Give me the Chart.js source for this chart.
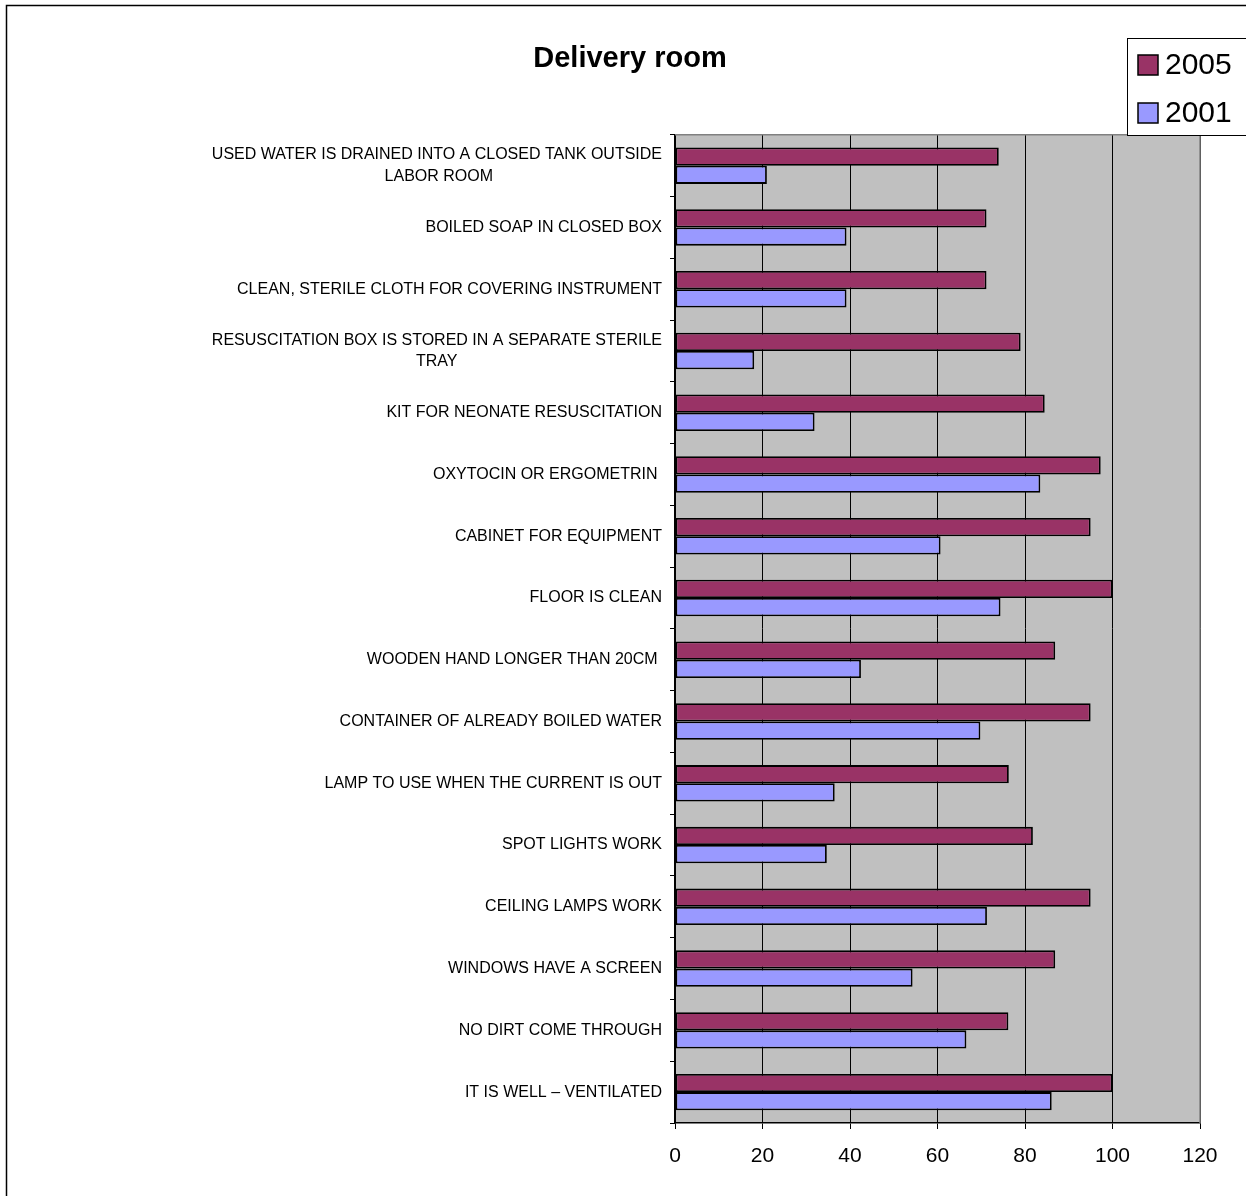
<!DOCTYPE html>
<html>
<head>
<meta charset="utf-8">
<title>Delivery room</title>
<script src="https://cdn.jsdelivr.net/npm/chart.js@4.4.1/dist/chart.umd.min.js"></script>
<style>
    html, body { margin: 0; padding: 0; background: #fff; }
    canvas { display: block; }
</style>
</head>
<body>
<canvas id="deliveryChart" width="1246" height="1196"></canvas>
<script>
// categories, top to bottom (multi-line ones as arrays)
const categories = [
    ['USED WATER IS DRAINED INTO A CLOSED TANK OUTSIDE', 'LABOR ROOM'],
    'BOILED SOAP IN CLOSED BOX',
    'CLEAN, STERILE CLOTH FOR COVERING INSTRUMENT',
    ['RESUSCITATION BOX IS STORED IN A SEPARATE STERILE', 'TRAY'],
    'KIT FOR NEONATE RESUSCITATION',
    'OXYTOCIN OR ERGOMETRIN ',
    'CABINET FOR EQUIPMENT',
    'FLOOR IS CLEAN',
    'WOODEN HAND LONGER THAN 20CM ',
    'CONTAINER OF ALREADY BOILED WATER',
    'LAMP TO USE WHEN THE CURRENT IS OUT',
    'SPOT LIGHTS WORK',
    'CEILING LAMPS WORK',
    'WINDOWS HAVE A SCREEN',
    'NO DIRT COME THROUGH',
    'IT IS WELL \u2013 VENTILATED'
];

const values2005 = [74, 71.2, 71.2, 79, 84.5, 97.3, 95, 100, 86.9, 95, 76.3, 81.8, 95, 86.9, 76.2, 100];
const values2001 = [21, 39.2, 39.2, 18.1, 31.9, 83.5, 60.7, 74.4, 42.5, 69.8, 36.5, 34.7, 71.3, 54.3, 66.6, 86.1];

const seriesNames = ['2005', '2001'];
const xTicks = [0, 20, 40, 60, 80, 100, 120];

const FONT = "'Liberation Sans', Arial, sans-serif";
const LABEL_SIZE = 16;

// second line of a wrapped label sits centred under the first one
const measureCtx = document.createElement('canvas').getContext('2d');
measureCtx.font = LABEL_SIZE + 'px ' + FONT;
function centreLines(label) {
    if (!Array.isArray(label)) return label;
    const w0 = measureCtx.measureText(label[0]).width;
    const sp = measureCtx.measureText('\u00a0').width;
    return label.map((line, i) => {
        if (i === 0) return line;
        const n = Math.round((w0 - measureCtx.measureText(line).width) / 2 / sp);
        return line + '\u00a0'.repeat(Math.max(0, n));
    });
}

const frame = {
    id: 'frame',
    beforeDraw(chart) {
        const c = chart.ctx, a = chart.chartArea;
        c.save();
        c.fillStyle = '#fff';
        c.fillRect(0, 0, chart.width, chart.height);
        c.strokeStyle = '#000';
        c.lineWidth = 1.5;
        c.strokeRect(6.5, 5.5, chart.width + 50, chart.height + 50);
        c.fillStyle = '#c0c0c0';
        c.fillRect(a.left, a.top, a.right - a.left, a.bottom - a.top);
        c.restore();
    },
    afterDatasetsDraw(chart) {
        const c = chart.ctx, a = chart.chartArea;
        c.save();
        c.strokeStyle = '#808080';
        c.lineWidth = 1.5;
        c.beginPath();
        c.moveTo(a.left, a.top);
        c.lineTo(a.right, a.top);
        c.lineTo(a.right, a.bottom);
        c.stroke();
        c.restore();
    },
    afterDraw(chart) {
        // legend box in the top right corner
        const c = chart.ctx;
        c.save();
        c.strokeStyle = '#000';
        c.lineWidth = 1;
        c.fillStyle = '#fff';
        c.fillRect(1127, 38, 140, 97);
        c.strokeRect(1127.5, 38.5, 140, 97);
        c.font = '30px ' + FONT;
        c.textBaseline = 'middle';
        chart.data.datasets.forEach((ds, i) => {
            const y = 55 + i * 48;
            c.fillStyle = ds.backgroundColor;
            c.fillRect(1138, y, 20, 20);
            c.lineWidth = 1.5;
            c.strokeRect(1138, y, 20, 20);
            c.fillStyle = '#000';
            c.fillText(ds.label, 1165, y + 11);
        });
        c.restore();
    }
};

new Chart(document.getElementById('deliveryChart'), {
    type: 'bar',
    data: {
        labels: categories.map(centreLines),
        datasets: [{
            label: seriesNames[0],
            data: values2005,
            backgroundColor: '#993366',
            borderColor: '#000',
            borderWidth: 1.8,
            borderSkipped: false
        }, {
            label: seriesNames[1],
            data: values2001,
            backgroundColor: '#9999ff',
            borderColor: '#000',
            borderWidth: 1.8,
            borderSkipped: false
        }]
    },
    options: {
        indexAxis: 'y',
        responsive: false,
        animation: false,
        devicePixelRatio: 1,
        categoryPercentage: 0.59,
        barPercentage: 1,
        layout: { padding: { left: 60, right: 46, top: 0, bottom: 0 } },
        plugins: {
            legend: { display: false },
            tooltip: { enabled: false },
            title: {
                display: true,
                text: 'Delivery room',
                color: '#000',
                font: { family: FONT, size: 29, weight: 'bold', lineHeight: 1.2 },
                padding: { top: 42, bottom: 58 }
            }
        },
        scales: {
            x: {
                min: 0,
                max: 120,
                afterBuildTicks(scale) {
                    scale.ticks = xTicks.map(v => ({ value: v }));
                },
                afterFit(scale) { scale.height = 73; },
                grid: { color: '#000', lineWidth: 1, tickLength: 6, drawOnChartArea: true },
                border: { color: '#000', width: 1.5 },
                ticks: { color: '#000', padding: 15, font: { family: FONT, size: 21 } }
            },
            y: {
                afterFit(scale) { scale.width = 615; },
                grid: { color: '#000', drawOnChartArea: false, tickLength: 5, offset: true },
                border: { color: '#000', width: 1.5 },
                ticks: {
                    color: '#000',
                    padding: 8,
                    autoSkip: false,
                    font: { family: FONT, size: LABEL_SIZE, lineHeight: 1.35 }
                }
            }
        }
    },
    plugins: [frame]
});
</script>
</body>
</html>
